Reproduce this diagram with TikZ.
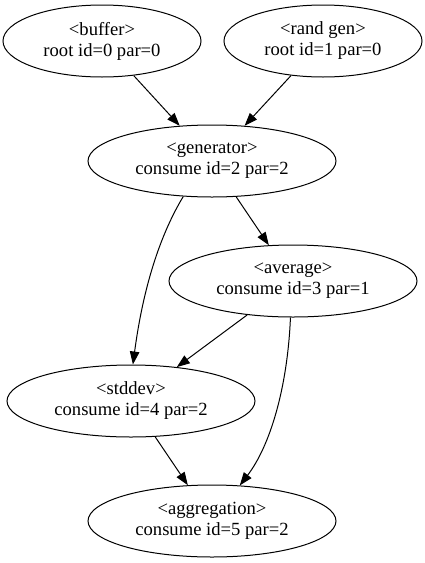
\documentclass[tikz,border=0pt]{standalone}
\usepackage{fontspec}
\setmainfont{Liberation Serif}
\usetikzlibrary{shapes.geometric,arrows.meta}
\tikzset{
  gvnode/.style={ellipse,draw,line width=1pt,inner sep=0pt,align=center,
    minimum height=72pt,
    font=\fontsize{18.6pt}{21pt}\selectfont},
  small/.style={minimum width=198pt},
  wide/.style={minimum width=248pt},
  gvedge/.style={draw,line width=1pt,-{Triangle[length=13pt,width=9.5pt]}}
}
\begin{document}
\begin{tikzpicture}[x=1pt,y=-1pt]
\useasboundingbox (0,0) rectangle (425,563);
\node[gvnode,small] (buffer) at (102,41) {<buffer>\\root id=0 par=0};
\node[gvnode,small] (randgen) at (323,41) {<rand gen>\\root id=1 par=0};
\node[gvnode,wide] (generator) at (212,161) {<generator>\\consume id=2 par=2};
\node[gvnode,wide] (average) at (293,281) {<average>\\consume id=3 par=1};
\node[gvnode,wide] (stddev) at (131,401) {<stddev>\\consume id=4 par=2};
\node[gvnode,wide] (aggregation) at (212,521) {<aggregation>\\consume id=5 par=2};
\draw[gvedge] (buffer) -- (generator);
\draw[gvedge] (randgen) -- (generator);
\draw[gvedge] (generator) -- (average);
\draw[gvedge] (generator.231) .. controls (157,240) and (142,296) .. (stddev.87);
\draw[gvedge] (average) -- (stddev);
\draw[gvedge] (average.266) .. controls (287.5,388) and (270,446) .. (aggregation.52);
\draw[gvedge] (stddev) -- (aggregation);
\end{tikzpicture}
\end{document}
